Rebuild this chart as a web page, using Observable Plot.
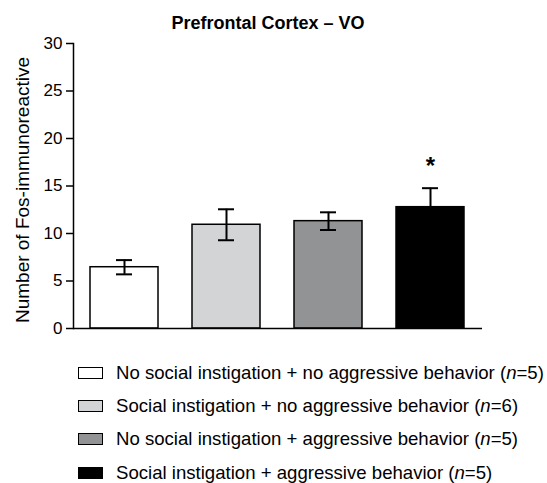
<!DOCTYPE html>
<html>
<head>
<meta charset="utf-8">
<script src="https://cdn.jsdelivr.net/npm/d3@7"></script>
<script src="https://cdn.jsdelivr.net/npm/@observablehq/plot@0.6"></script>
<style>
  html, body { margin: 0; padding: 0; background: #fff; }
  body { width: 547px; height: 483px; overflow: hidden; font-family: "Liberation Sans", Arial, sans-serif; color: #000; }
  #title { font-size: 18px; font-weight: bold; line-height: 20px; padding-top: 13px; padding-bottom: 3px; text-align: center; padding-right: 11px; }
  #chart svg { display: block; }
  #legend { padding-top: 20px; }
  .row { display: flex; align-items: center; height: 33.33px; font-size: 18.6px; white-space: nowrap; }
  .sw { margin-left: 78px; width: 23px; height: 10px; border: 1.5px solid #000; flex: none; }
  .lbl { margin-left: 13px; }
</style>
</head>
<body>
<div id="title">Prefrontal Cortex – VO</div>
<div id="chart"></div>
<div id="legend"></div>
<script>
const groups = [
  "No social instigation + no aggressive behavior",
  "Social instigation + no aggressive behavior",
  "No social instigation + aggressive behavior",
  "Social instigation + aggressive behavior"
];
const nValues = [5, 6, 5, 5];
const means = [6.45, 10.92, 11.3, 12.77];
const sems = [0.75, 1.63, 0.93, 2.0];
const fills = ["#ffffff", "#d3d4d6", "#929395", "#000000"];
const significance = ["", "", "", "*"];
const yTicks = [0, 5, 10, 15, 20, 25, 30];
const yLabel = "Number of Fos-immunoreactive";

const data = groups.map((g, i) => ({group: g, mean: means[i], sem: sems[i], sig: significance[i]}));

const chart = Plot.plot({
  width: 547,
  height: 300,
  marginTop: 7,
  marginBottom: 8,
  marginLeft: 73,
  marginRight: 65,
  style: {fontFamily: '"Liberation Sans", Arial, sans-serif', fontSize: "17px", color: "#000", background: "#fff", overflow: "visible"},
  x: {domain: groups, paddingInner: 0.33, paddingOuter: 0.165, axis: null},
  y: {domain: [0, 30], axis: null},
  color: {domain: groups, range: fills},
  marks: [
    Plot.barY(data, {x: "group", y: "mean", fill: "group", stroke: "#000", strokeWidth: 1.5}),
    Plot.ruleX(data, {x: "group", y1: d => d.mean - d.sem, y2: d => d.mean + d.sem, stroke: "#000", strokeWidth: 2}),
    Plot.tickY(data, {x: "group", y: d => d.mean + d.sem, insetLeft: 26, insetRight: 26, stroke: "#000", strokeWidth: 2}),
    Plot.tickY(data, {x: "group", y: d => d.mean - d.sem, insetLeft: 26, insetRight: 26, stroke: "#000", strokeWidth: 2}),
    Plot.text(data.filter(d => d.sig), {x: "group", y: d => d.mean + d.sem, text: "sig", dy: -22, fontSize: 24, fontWeight: "bold"}),
    Plot.axisY({ticks: yTicks, tickSize: 7, tickPadding: 4, fontSize: 17, label: null, strokeWidth: 1.5}),
    Plot.frame({anchor: "left", stroke: "#000", strokeWidth: 1.5}),
    Plot.ruleY([0], {stroke: "#000", strokeWidth: 1.5}),
    Plot.text([yLabel], {text: d => d, frameAnchor: "left", textAnchor: "middle", dx: -51, dy: 4, rotate: -90, fontSize: 19})
  ]
});
document.getElementById("chart").appendChild(chart);

const legend = document.getElementById("legend");
groups.forEach((g, i) => {
  const row = document.createElement("div");
  row.className = "row";
  const sw = document.createElement("div");
  sw.className = "sw";
  sw.style.background = fills[i];
  const lbl = document.createElement("span");
  lbl.className = "lbl";
  lbl.innerHTML = `${g} (<i>n</i>=${nValues[i]})`;
  row.appendChild(sw);
  row.appendChild(lbl);
  legend.appendChild(row);
});
</script>
</body>
</html>
